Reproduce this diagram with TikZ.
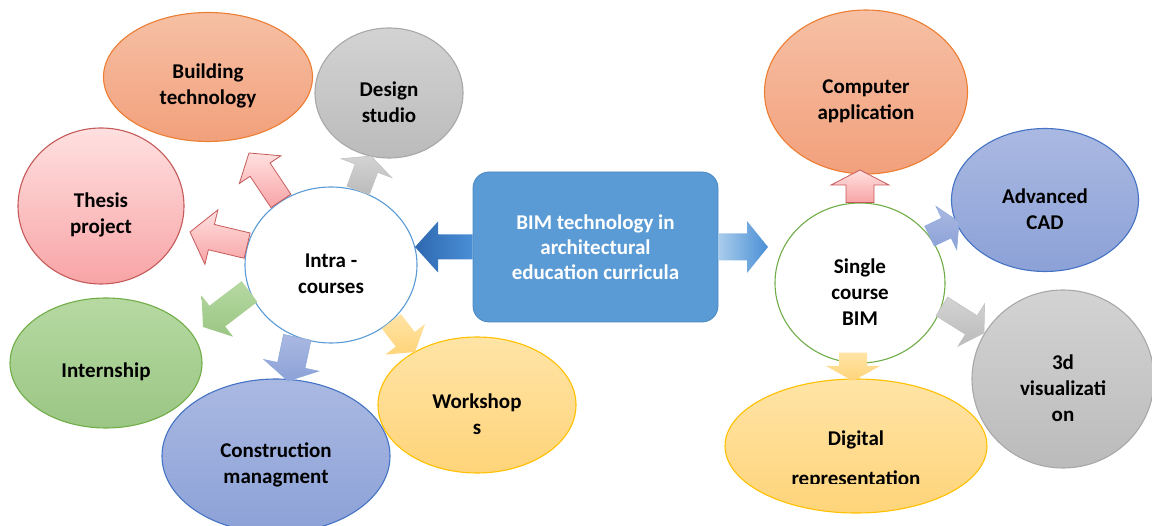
\documentclass[tikz,border=0pt]{standalone}
\usepackage{fontspec}
\setmainfont{Carlito}
\usepackage{tikz}
\usetikzlibrary{shapes,arrows,positioning,calc}

\definecolor{orangeTop}{HTML}{F6C0A4}
\definecolor{orangeBot}{HTML}{F2A07C}
\definecolor{orangeEdge}{HTML}{ED7D31}
\definecolor{greyTop}{HTML}{D3D3D3}
\definecolor{greyBot}{HTML}{BBBBBB}
\definecolor{greyEdge}{HTML}{A8A8A8}
\definecolor{pinkTop}{HTML}{FFE0E0}
\definecolor{pinkBot}{HTML}{F8A4A6}
\definecolor{pinkEdge}{HTML}{C55A5A}
\definecolor{greenTop}{HTML}{B6D9A2}
\definecolor{greenBot}{HTML}{9BC684}
\definecolor{greenEdge}{HTML}{70AD47}
\definecolor{blueTop}{HTML}{AAB9E2}
\definecolor{blueBot}{HTML}{8CA1D7}
\definecolor{blueEdge}{HTML}{4472C4}
\definecolor{yellowTop}{HTML}{FFE4A6}
\definecolor{yellowBot}{HTML}{FFD47A}
\definecolor{yellowEdge}{HTML}{FFC000}
\definecolor{bimBlue}{HTML}{5B9BD5}
\definecolor{bimEdge}{HTML}{4A87C0}
\definecolor{darkArrow}{HTML}{2D68B0}
\definecolor{midArrow}{HTML}{4A8FD6}
\definecolor{paleArrow}{HTML}{A9CCEB}

\newcommand{\bubblefont}{\fontsize{21}{26}\selectfont\bfseries}
\newcommand{\boxfont}{\fontsize{21}{25}\selectfont\bfseries}

% block arrow: style, tail, tip, shaft half width, head half width, head length
\newcommand{\blockarrow}[6][]{%
  \coordinate (ba-neck) at ($(#3)!#6!(#2)$);
  \path[#1] ($(#2)!#4!90:(#3)$) -- ($(ba-neck)!#4!90:(#3)$)
    -- ($(ba-neck)!#5!90:(#3)$) -- (#3) -- ($(ba-neck)!#5!-90:(#3)$)
    -- ($(ba-neck)!#4!-90:(#3)$) -- ($(#2)!#4!-90:(#3)$) -- cycle;
}

\tikzset{
  bubble/.style={ellipse, draw, line width=1.1pt, inner sep=0pt},
  txt/.style={label={[font=\bubblefont, align=center, yshift=-9pt]center:#1}},
  orangeB/.style={draw=orangeEdge, top color=orangeTop, bottom color=orangeBot},
  greyB/.style={draw=greyEdge, top color=greyTop, bottom color=greyBot},
  pinkB/.style={draw=pinkEdge, top color=pinkTop, bottom color=pinkBot},
  greenB/.style={draw=greenEdge, top color=greenTop, bottom color=greenBot},
  blueB/.style={draw=blueEdge, top color=blueTop, bottom color=blueBot},
  yellowB/.style={draw=yellowEdge, top color=yellowTop, bottom color=yellowBot},
  pinkA/.style={draw=pinkEdge, line width=0.8pt, top color=pinkTop, bottom color=pinkBot},
  greyA/.style={draw=greyEdge!70, line width=0.6pt, top color=greyTop, bottom color=greyBot},
  greenA/.style={top color=greenTop, bottom color=greenBot},
  blueA/.style={draw=blueEdge!60, line width=0.6pt, top color=blueTop, bottom color=blueBot},
  yellowA/.style={top color=yellowTop, bottom color=yellowBot},
  darkA/.style={left color=darkArrow, right color=midArrow},
  paleA/.style={left color=paleArrow, right color=midArrow}
}

\begin{document}
\begin{tikzpicture}[x=1pt,y=-1pt]
\useasboundingbox (0,0) rectangle (1152,526);
\clip (0,0) rectangle (1152,526);

% Centre box
\node[draw=bimEdge, line width=0.8pt, fill=bimBlue, rounded corners=16pt,
  minimum width=245pt, minimum height=150pt, text=white, font=\boxfont,
  align=center] (bim) at (595.5,247) {BIM technology in\\architectural\\education curricula};

% Hubs
\node[bubble, draw=bimBlue, fill=white, minimum width=172pt, minimum height=156pt,
  txt={Intra -\\courses}] (intra) at (331,265) {};
\node[bubble, draw=greenEdge, fill=white, minimum width=170pt, minimum height=160pt,
  txt={Single\\course\\BIM}] (single) at (860,283) {};

% Intra courses
\node[bubble, orangeB, minimum width=209pt, minimum height=129pt, txt={Building\\technology}] (build) at (208,77) {};
\node[bubble, greyB, minimum width=148pt, minimum height=130pt, txt={Design\\studio}] (design) at (389,93) {};
\node[bubble, pinkB, minimum width=166pt, minimum height=156pt, txt={Thesis\\project}] (thesis) at (101,206) {};
\node[bubble, greenB, minimum width=192pt, minimum height=130pt, txt={Internship}] (intern) at (106,363) {};
\node[bubble, blueB, minimum width=228pt, minimum height=154pt, txt={Construction\\managment}] (constr) at (276,456) {};
\node[bubble, yellowB, minimum width=198pt, minimum height=136pt, txt={Workshop\\s}] (work) at (477,405) {};

% Single course
\node[bubble, orangeB, minimum width=203pt, minimum height=164pt, txt={Computer\\application}] (comp) at (866,92) {};
\node[bubble, blueB, minimum width=187pt, minimum height=143pt, txt={Advanced\\CAD}] (cad) at (1045,200) {};
\node[bubble, greyB, minimum width=182pt, minimum height=178pt, txt={3d\\visualizati\\on}] (vis) at (1063,379) {};
\node[bubble, yellowB, minimum width=262pt, minimum height=134pt] (digital) at (856,446) {};
\node[font=\bubblefont] (digital-a) at (856,440) {Digital};
\begin{scope}
\clip (720,462) rectangle (990,484);
\node[font=\bubblefont] (digital-b) at (856,480) {representation};
\end{scope}

% Arrow tips
\coordinate (build-in) at (249,153);
\coordinate (thesis-in) at (190,232);
\coordinate (design-in) at (371,156);
\coordinate (intern-in) at (203,327);
\coordinate (constr-in) at (288,381);
\coordinate (work-in) at (415,352);
\coordinate (intra-in) at (415,247);
\coordinate (single-in) at (768,247);
\coordinate (comp-in) at (860,170);
\coordinate (cad-in) at (959,222);
\coordinate (vis-in) at (984,333);
\coordinate (digital-in) at (853,381);
\coordinate (single-low) at ($(single.south)+(-7,-11)$);

% Arrows
\blockarrow[darkA]{bim.west}{intra-in}{12.5pt}{25.5pt}{23pt}
\blockarrow[paleA]{bim.east}{single-in}{13.5pt}{26pt}{21pt}
\blockarrow[pinkA]{intra.128}{build-in}{12pt}{25pt}{20pt}
\blockarrow[pinkA]{intra.167}{thesis-in}{13pt}{28pt}{22pt}
\blockarrow[greyA]{intra.70}{design-in}{12pt}{27pt}{13pt}
\blockarrow[greenA]{intra.198}{intern-in}{13pt}{26pt}{18pt}
\blockarrow[blueA]{intra.245}{constr-in}{14pt}{28pt}{16pt}
\blockarrow[yellowA]{intra.317}{work-in}{12pt}{25pt}{16pt}
\blockarrow[pinkA]{single.north}{comp-in}{14pt}{29pt}{15pt}
\blockarrow[blueA]{single.34}{cad-in}{11pt}{24pt}{14pt}
\blockarrow[greyA]{single.-16}{vis-in}{11pt}{25pt}{15pt}
\blockarrow[yellowA]{single-low}{digital-in}{14pt}{27pt}{15pt}
\end{tikzpicture}
\end{document}
